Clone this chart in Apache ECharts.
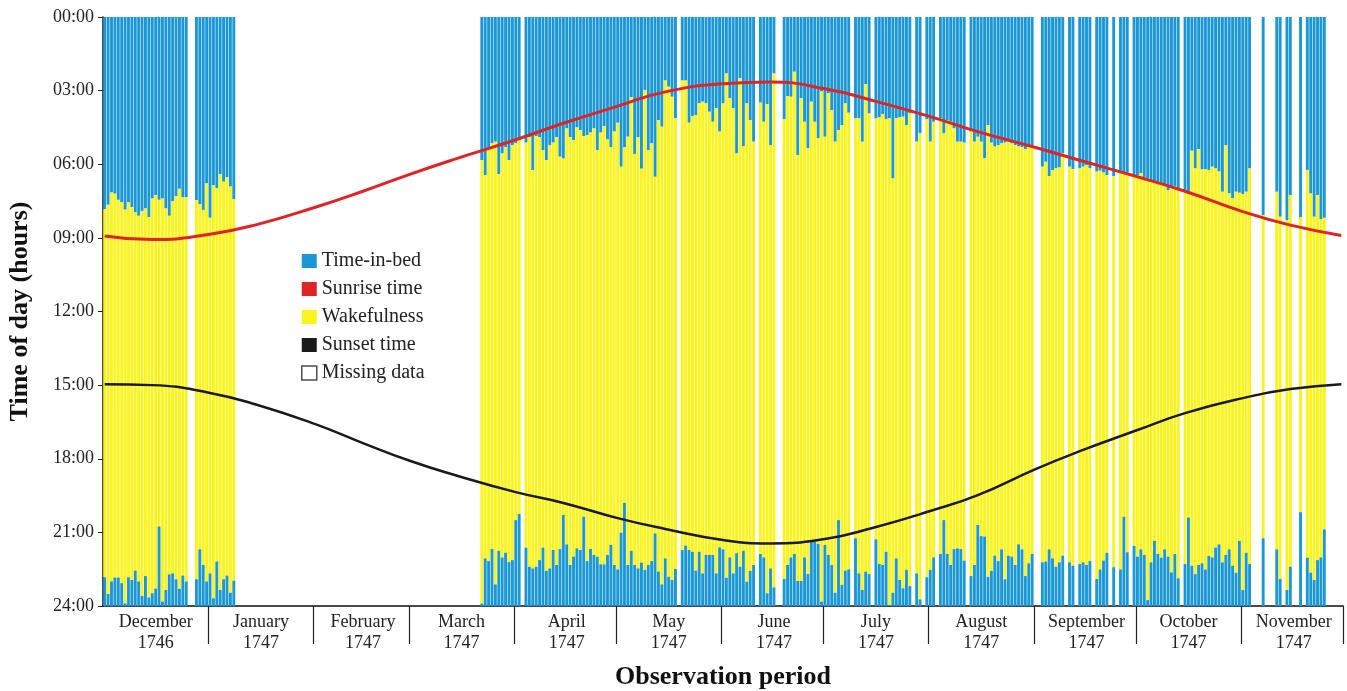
<!DOCTYPE html>
<html>
<head>
<meta charset="utf-8">
<title>Time-in-bed and wakefulness, 1746-1747</title>
<script src="https://cdn.jsdelivr.net/npm/echarts@6/dist/echarts.min.js"></script>
<style>
  html, body { margin: 0; padding: 0; background: #fff; }
  #chart { width: 1347px; height: 691px; }
</style>
</head>
<body>
<div id="chart"></div>
<script>
const n = null;

// months on the x axis
const monthNames = ['December', 'January', 'February', 'March', 'April', 'May', 'June', 'July', 'August', 'September', 'October', 'November'];
const monthYears = ['1746', '1747', '1747', '1747', '1747', '1747', '1747', '1747', '1747', '1747', '1747', '1747'];
const monthLengths = [31, 31, 28, 31, 30, 31, 30, 31, 31, 30, 31, 30];
const hourTicks = ['00:00', '03:00', '06:00', '09:00', '12:00', '15:00', '18:00', '21:00', '24:00'];

// getting up (end of the night's time in bed), hours after midnight, one per day, null = missing
const wakeDec = [7.83, 7.65, 7.15, 7.2, 7.45, 7.55, 7.85, 7.55, 7.75, 7.95, 8.1, 7.9, 7.8, 8.15, 7.4, 7.25, 7.45, 7.4, 7.8, 8.1, 7.5, 7.3, 7.0, 7.35, 7.35, n, n, 7.46, 7.62, 7.86, 6.78];
const wakeJan = [8.18, 6.85, 6.98, 6.41, 6.71, 6.53, 6.91, 7.42, n, n, n, n, n, n, n, n, n, n, n, n, n, n, n, n, n, n, n, n, n, n, n];
const wakeFeb = [n, n, n, n, n, n, n, n, n, n, n, n, n, n, n, n, n, n, n, n, n, n, n, n, n, n, n, n];
const wakeMar = [n, n, n, n, n, n, n, n, n, n, n, n, n, n, n, n, n, n, n, n, n, 5.83, 6.44, 5.35, 5.15, 5.08, 6.40, 5.56, 5.31, 5.83, 5.22];
const wakeApr = [5.15, 5.01, n, 5.12, 4.90, 6.24, 4.85, 4.90, 5.42, 5.83, 5.22, 5.12, 4.90, 5.69, 5.77, 4.54, 4.90, 5.01, 4.50, 4.61, 4.85, 4.81, 4.71, 4.54, 5.42, 4.71, 4.44, 4.99, 5.31, 4.67];
const wakeMay = [4.31, 6.10, 5.31, 4.88, 3.27, 5.58, 4.90, 6.18, 2.97, 5.42, 5.15, 6.51, 4.20, 4.47, 2.59, 2.84, 3.25, 4.13, n, 2.59, 2.59, 4.31, 4.03, 3.99, 3.52, 3.45, 3.52, 3.86, 4.27, 3.72, 4.67];
const wakeJun = [3.52, 2.30, 3.31, 3.72, 5.56, 2.50, 5.26, 3.52, 4.20, 5.08, n, 3.49, 4.27, 3.55, 5.22, 2.30, n, n, 4.17, 3.22, 3.25, 2.23, 5.62, 3.31, 4.27, 5.35, 3.45, 4.27, 4.94, 3.04];
const wakeJul = [4.88, 3.11, 3.79, 5.08, 4.61, 4.40, 3.52, 3.90, n, 4.13, 4.13, 5.08, 2.73, 3.93, n, 4.13, 4.09, 3.95, 4.17, 4.13, 6.58, 4.13, 4.09, 4.06, 4.40, 3.93, n, 5.08, 4.74, n, 4.17];
const wakeAug = [5.08, 4.27, n, 4.13, 4.74, 4.20, 4.27, 4.54, 5.08, 5.08, 5.12, n, 4.67, 5.08, 4.88, 5.08, 5.76, 4.40, 5.12, 5.28, 5.22, 5.15, 5.12, 5.08, 5.15, 5.22, 5.28, 5.31, 5.39, 5.28, 5.28];
const wakeSep = [n, n, 6.10, 5.90, 6.48, 6.24, 6.17, 6.13, 5.56, n, 6.10, 6.20, n, 6.17, 6.10, 6.03, 6.17, n, 6.30, 6.26, 6.34, 6.44, n, 6.48, n, 6.30, 6.37, 6.35, n, 6.48];
const wakeOct = [6.44, 6.37, 6.53, 6.57, 6.64, 6.71, 6.78, 6.85, 6.89, 7.05, 6.98, 6.91, 7.05, n, 7.12, 7.21, 5.45, 6.17, 5.39, 6.21, 6.21, 6.23, 6.10, 6.17, 6.30, 7.12, 5.22, 7.19, 7.39, 7.12, 7.16];
const wakeNov = [7.21, 7.12, 6.17, n, n, n, 8.07, n, n, n, 7.12, 8.14, n, 8.27, 7.25, n, n, 8.16, n, 6.23, 7.19, 8.14, 7.25, 8.23, 8.18, n, n, n, n, n];

// going to bed (start of the evening's time in bed), hours after midnight
const bedDec = [22.83, 23.51, 23.0, 22.84, 22.84, 23.07, 23.89, 22.83, 22.94, 22.56, 23.0, 23.59, 22.78, 23.65, 23.48, 23.29, 20.76, 23.82, 23.35, 22.71, 22.67, 22.91, 23.3, 22.76, 23.0, n, n, 22.91, 21.69, 22.33, 23.0];
const bedJan = [22.67, 23.69, 22.19, 23.35, 22.91, 22.76, 23.46, 22.97, n, n, n, n, n, n, n, n, n, n, n, n, n, n, n, n, n, n, n, n, n, n, n];
const bedFeb = [n, n, n, n, n, n, n, n, n, n, n, n, n, n, n, n, n, n, n, n, n, n, n, n, n, n, n, n];
const bedMar = [n, n, n, n, n, n, n, n, n, n, n, n, n, n, n, n, n, n, n, n, n, 23.9, 22.06, 22.17, 21.68, 23.12, 21.75, 22.02, 21.83, 22.21, 22.13];
const bedApr = [20.50, 20.25, n, 21.62, 22.40, 22.47, 22.40, 22.13, 21.62, 22.57, 22.47, 21.72, 22.33, 21.68, 20.29, 21.49, 22.33, 21.99, 21.65, 21.72, 20.36, 22.17, 21.68, 21.92, 21.99, 22.30, 22.30, 21.92, 21.51, 22.33];
const bedMay = [22.51, 21.01, 19.8, 22.33, 21.75, 22.33, 22.47, 22.23, 22.53, 22.33, 22.17, 21.04, 22.60, 23.12, 22.06, 22.81, 22.94, 22.49, n, 21.72, 21.54, 21.72, 21.79, 22.56, 21.79, 22.67, 21.92, 21.92, 21.92, 22.67, 21.61];
const bedJun = [21.69, 22.85, 22.02, 22.67, 21.85, 22.40, 21.75, 23.01, 22.57, 22.33, n, 21.88, 22.02, 23.48, 22.47, 23.24, n, n, 22.90, 22.33, 22.02, 21.88, 22.98, 22.98, 22.02, 22.70, 21.38, 21.38, 21.47, 23.82];
const bedJul = [21.51, 21.92, 22.33, 23.46, 20.50, 23.14, 22.56, 22.51, n, 21.24, 22.67, 23.35, 22.60, 22.70, n, 21.28, 22.29, 22.33, 21.79, 23.96, 23.46, 22.06, 22.94, 23.28, 22.53, 23.19, n, 22.67, 23.73, n, 22.83];
const bedAug = [22.53, 22.02, n, 21.88, 20.50, 21.88, 22.33, 21.68, 21.65, 21.68, 22.15, n, 22.78, 22.33, 20.70, 21.15, 21.17, 22.81, 22.57, 21.95, 22.17, 21.69, 22.91, 21.95, 21.99, 22.33, 21.49, 21.69, 22.78, 22.26, 21.88];
const bedSep = [n, n, 22.22, 22.19, 21.69, 22.06, 22.40, 22.22, 21.95, n, 22.22, 22.36, n, 22.29, 22.22, 22.33, 22.17, n, 22.90, 22.51, 22.15, 21.83, n, 22.42, n, 22.51, 20.36, 21.81, n, 21.55];
const bedOct = [21.99, 21.69, 21.92, 23.76, 22.22, 21.35, 21.88, 22.03, 21.69, 21.99, 22.63, 21.88, 22.87, n, 22.29, 20.39, 22.36, 22.70, 22.33, 22.26, 22.51, 21.96, 22.02, 21.62, 21.49, 22.22, 21.92, 21.69, 22.36, 22.64, 21.35];
const bedNov = [23.35, 21.83, 22.29, n, n, n, 21.24, n, n, n, 21.69, 22.90, n, 23.35, 22.40, n, n, 20.18, n, 22.03, 22.64, 22.94, 22.13, 22.02, 20.88, n, n, n, n, n];

// sunrise / sunset (day index from 1 Dec 1746, hours)
const sunDays = [0, 14, 31, 45, 62, 76, 90, 104, 121, 135, 151, 165, 182, 196, 212, 226, 243, 257, 274, 288, 304, 318, 335, 349, 364];
const sunriseHours = [8.92, 9.07, 8.85, 8.45, 7.75, 7.1, 6.4, 5.75, 5.0, 4.33, 3.63, 3.05, 2.72, 2.65, 2.92, 3.4, 4.06, 4.67, 5.32, 5.88, 6.51, 7.1, 7.93, 8.48, 8.9];
const sunsetHours = [14.96, 15.0, 15.32, 15.81, 16.59, 17.36, 18.09, 18.7, 19.36, 19.8, 20.42, 20.86, 21.31, 21.45, 21.27, 20.82, 20.13, 19.48, 18.42, 17.64, 16.83, 16.14, 15.53, 15.16, 14.96];

const wake = [].concat(wakeDec, wakeJan, wakeFeb, wakeMar, wakeApr, wakeMay, wakeJun, wakeJul, wakeAug, wakeSep, wakeOct, wakeNov);
const bed = [].concat(bedDec, bedJan, bedFeb, bedMar, bedApr, bedMay, bedJun, bedJul, bedAug, bedSep, bedOct, bedNov);

const days = wake.map((v, i) => String(i));
const monthStart = [];
const monthMid = [];
let acc = 0;
monthLengths.forEach(len => {
    monthStart.push(acc);
    monthMid.push(acc + Math.floor(len / 2));
    acc += len;
});
// no separator at the very start of the axis
const separators = monthStart.slice(1);

// stacked pieces: morning bed, wakefulness, evening bed
const bedMorning = wake.slice();
const awake = wake.map((v, i) => v == null ? null : +(bed[i] - v).toFixed(2));
const bedEvening = bed.map(v => v == null ? null : +(24 - v).toFixed(2));

const sunrise = days.map(() => null);
const sunset = days.map(() => null);
sunDays.forEach((d, k) => {
    sunrise[d] = sunriseHours[k];
    sunset[d] = sunsetHours[k];
});

const BLUE = '#1b97d5';
const YELLOW = '#fbf31d';
const RED = '#de2424';
const BLACK = '#1a1a1a';
const SERIF = 'Liberation Serif';

const chart = echarts.init(document.getElementById('chart'), null, { renderer: 'canvas' });

chart.setOption({
    animation: false,
    backgroundColor: '#fff',
    grid: { left: 103, right: 4, top: 17, bottom: 85, containLabel: false, outerBoundsMode: 'none' },
    legend: {
        orient: 'vertical',
        left: 296,
        top: 246,
        itemWidth: 15,
        itemHeight: 14,
        itemGap: 8,
        selectedMode: false,
        textStyle: { fontFamily: SERIF, fontSize: 20, color: '#222' },
        data: [
            { name: 'Time-in-bed', icon: 'rect', itemStyle: { color: BLUE } },
            { name: 'Sunrise time', icon: 'rect', itemStyle: { color: RED } },
            { name: 'Wakefulness', icon: 'rect', itemStyle: { color: YELLOW } },
            { name: 'Sunset time', icon: 'rect', itemStyle: { color: BLACK } },
            { name: 'Missing data', icon: 'rect', itemStyle: { color: '#fff', borderColor: '#222', borderWidth: 1.5 } }
        ]
    },
    xAxis: {
        type: 'category',
        position: 'bottom',
        data: days,
        boundaryGap: true,
        name: 'Observation period',
        nameLocation: 'middle',
        nameGap: 58,
        nameTextStyle: { fontFamily: SERIF, fontSize: 26, fontWeight: 'bold', color: '#111' },
        axisLine: { onZero: false, lineStyle: { color: '#111', width: 1.5 } },
        axisTick: {
            show: true,
            alignWithLabel: false,
            interval: (i) => separators.indexOf(i) >= 0,
            length: 38,
            lineStyle: { color: '#222', width: 1.2 }
        },
        axisLabel: {
            interval: (i) => monthMid.indexOf(i) >= 0,
            formatter: (v, i) => {
                const m = monthMid.indexOf(i);
                return m >= 0 ? monthNames[m] + '\n' + monthYears[m] : '';
            },
            fontFamily: SERIF,
            fontSize: 18,
            lineHeight: 21,
            margin: 6,
            color: '#222'
        },
        splitLine: { show: false }
    },
    yAxis: {
        type: 'value',
        inverse: true,
        min: 0,
        max: 24,
        interval: 3,
        name: 'Time of day (hours)',
        nameLocation: 'middle',
        nameGap: 70,
        nameRotate: 90,
        nameTextStyle: { fontFamily: SERIF, fontSize: 26, fontWeight: 'bold', color: '#111' },
        axisLine: { show: true, lineStyle: { color: '#111', width: 1.5 } },
        axisTick: { show: true, length: 5, lineStyle: { color: '#222' } },
        axisLabel: {
            formatter: (v) => hourTicks[v / 3],
            fontFamily: SERIF,
            fontSize: 18,
            margin: 9,
            color: '#222'
        },
        splitLine: { show: false }
    },
    series: [
        {
            name: 'Time-in-bed',
            type: 'bar',
            stack: 'day',
            data: bedMorning,
            barCategoryGap: '15%',
            itemStyle: { color: BLUE }
        },
        {
            name: 'Wakefulness',
            type: 'bar',
            stack: 'day',
            data: awake,
            itemStyle: { color: YELLOW }
        },
        {
            name: 'Time-in-bed',
            type: 'bar',
            stack: 'day',
            data: bedEvening,
            itemStyle: { color: BLUE }
        },
        {
            name: 'Sunrise time',
            type: 'line',
            data: sunrise,
            connectNulls: true,
            smooth: true,
            showSymbol: false,
            z: 5,
            itemStyle: { color: RED },
            lineStyle: { color: RED, width: 3 }
        },
        {
            name: 'Sunset time',
            type: 'line',
            data: sunset,
            connectNulls: true,
            smooth: true,
            showSymbol: false,
            z: 5,
            itemStyle: { color: BLACK },
            lineStyle: { color: BLACK, width: 2.5 }
        },
        {
            // legend entry only
            name: 'Missing data',
            type: 'scatter',
            data: [],
            itemStyle: { color: '#fff', borderColor: '#222', borderWidth: 1.5 }
        }
    ]
});
</script>
</body>
</html>
